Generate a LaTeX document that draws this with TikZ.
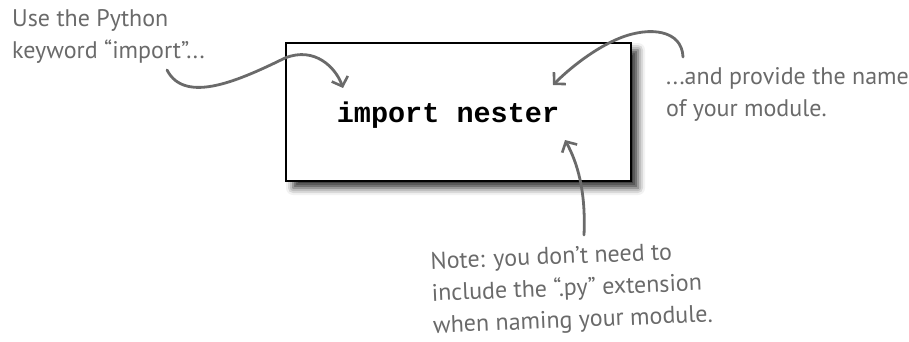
\documentclass[tikz,border=0pt]{standalone}
\usepackage{fontspec}
\setmainfont{PT Sans}
\newfontfamily\codefont{Liberation Mono}
\usetikzlibrary{shadows.blur,arrows.meta}
\definecolor{hand}{HTML}{6A6A6A}
\tikzset{
  hand text/.style={text=hand, font=\fontsize{24}{32}\selectfont, align=left, inner sep=0pt},
  hand arrow/.style={draw=hand, line width=2.8pt, line cap=round,
    -{Straight Barb[length=8pt,width=17pt,line width=2.6pt]}},
  codebox/.style={draw=black, line width=2pt, fill=white,
    blur shadow={shadow xshift=7pt, shadow yshift=-7pt, shadow blur radius=7pt, shadow opacity=80}},
}
\begin{document}
\begin{tikzpicture}[x=1pt,y=-1pt]
\useasboundingbox (0,0) rectangle (909,342);
\node[codebox, minimum width=345pt, minimum height=138pt, anchor=north west] (box) at (285,42) {};
\node[font=\codefont\bfseries\fontsize{28.5}{30}\selectfont, inner sep=0pt] (code) at (448,115) {import nester};

\node[hand text, anchor=north west] (left) at (12,9) {Use the Python\\keyword “import”...};
\node[hand text, anchor=north west] (right) at (666,67) {...and provide the name\\ of your module.};
\node[hand text, anchor=north west, rotate=2.3] (bottom) at (430,252) {Note: you don’t need to\\include the “.py” extension\\when naming your module.};

\coordinate (s1) at (167,70);
\coordinate (t1) at (343,88);
\coordinate (s2) at (683,57);
\coordinate (t2) at (553,85);
\coordinate (s3) at (584,235);
\coordinate (t3) at (565,140);

\draw[hand arrow] (s1) .. controls (185,105) and (240,80) .. (285,58) .. controls (315,46) and (336,68) .. (t1);
\draw[hand arrow] (s2) .. controls (682,30) and (650,26) .. (620,38) .. controls (595,48) and (570,68) .. (t2);
\draw[hand arrow] (s3) .. controls (586,190) and (577,162) .. (t3);
\end{tikzpicture}
\end{document}
